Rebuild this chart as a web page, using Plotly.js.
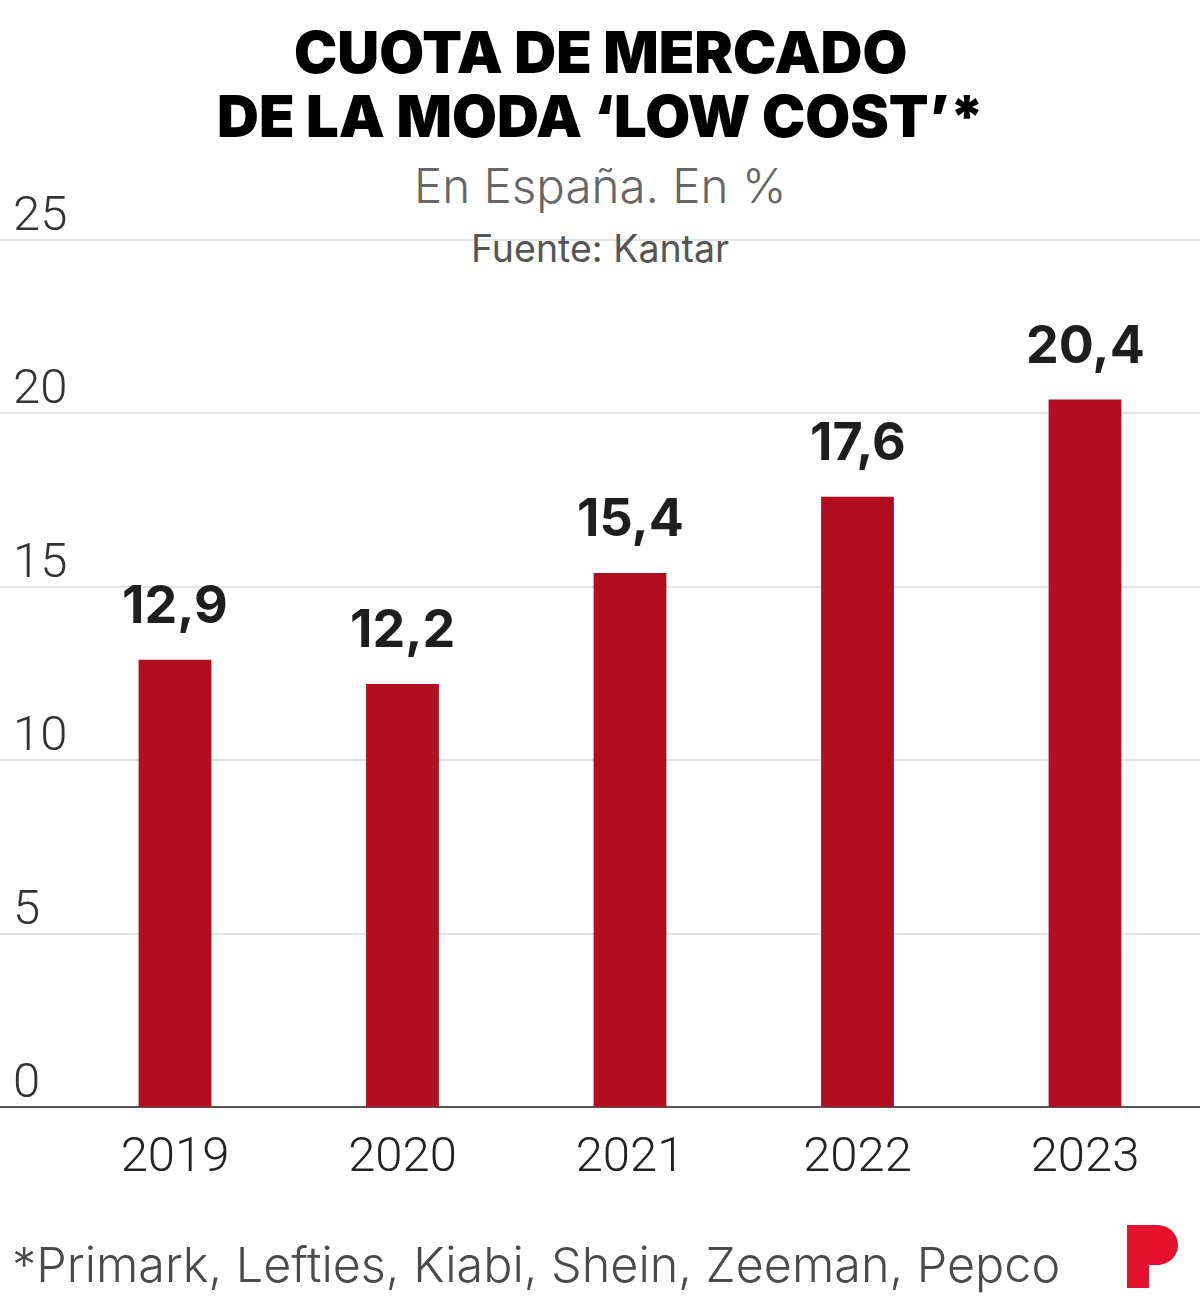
<!DOCTYPE html>
<html>
<head>
<meta charset="utf-8">
<script src="https://cdn.plot.ly/plotly-3.0.1.min.js"></script>
<style>
html,body{margin:0;padding:0;background:#fff;}
#chart{width:1200px;height:1305px;}
</style>
</head>
<body>
<div id="chart"></div>
<script>
const years = ["2019", "2020", "2021", "2022", "2023"];
const shares = [12.9, 12.2, 15.4, 17.6, 20.4];
const yTicks = [0, 5, 10, 15, 20, 25];

const W = 1200, H = 1305;
const M = {l: 0, r: 0, t: 238, b: 198};
const plotH = H - M.t - M.b;
const px2x = x => x / W;
const px2y = y => (H - M.b - y) / plotH;

function fmt(v) { return v.toFixed(1).replace('.', ','); }

const barColor = '#b30e20';

const trace = {
  type: 'bar',
  x: years,
  y: shares,
  width: 0.32,
  marker: {color: barColor},
  hoverinfo: 'skip'
};

const annotations = years.map((yr, i) => ({
  x: i, y: shares[i], xref: 'x', yref: 'y',
  text: fmt(shares[i]),
  showarrow: false, yanchor: 'bottom', yshift: 22,
  font: {family: 'Inter, Roboto, sans-serif', size: 52, weight: 700, color: '#1e1e1e'}
}));

// y tick labels (above gridlines, at left)
yTicks.forEach(v => annotations.push({
  xref: 'paper', yref: 'y', x: px2x(11), y: v, xanchor: 'left', yanchor: 'bottom', yshift: -4,
  text: String(v), showarrow: false,
  font: {family: 'Roboto, sans-serif', size: 49, weight: 300, color: '#333'}
}));

annotations.push({
  xref: 'paper', yref: 'paper', x: 0.5, y: px2y(52), xanchor: 'center', yanchor: 'middle',
  text: 'CUOTA DE MERCADO', showarrow: false,
  font: {family: 'Inter, sans-serif', size: 58, weight: 900, color: '#000'}
});
annotations.push({
  xref: 'paper', yref: 'paper', x: 0.5, y: px2y(116), xanchor: 'center', yanchor: 'middle',
  text: 'DE LA MODA ‘LOW COST’*', showarrow: false,
  font: {family: 'Inter, sans-serif', size: 58, weight: 900, color: '#000'}
});
annotations.push({
  xref: 'paper', yref: 'paper', x: 0.5, y: px2y(186), xanchor: 'center', yanchor: 'middle',
  text: 'En España. En %', showarrow: false,
  font: {family: 'Inter, sans-serif', size: 47.5, weight: 300, color: '#666'}
});
annotations.push({
  xref: 'paper', yref: 'paper', x: 0.5, y: px2y(248), xanchor: 'center', yanchor: 'middle',
  text: 'Fuente: Kantar', showarrow: false,
  font: {family: 'Inter, sans-serif', size: 37.5, weight: 400, color: '#555'}
});
annotations.push({
  xref: 'paper', yref: 'paper', x: px2x(10), y: px2y(1264), xanchor: 'left', yanchor: 'middle',
  text: '*Primark, Lefties, Kiabi, Shein, Zeeman, Pepco', showarrow: false,
  font: {family: 'Inter, sans-serif', size: 48.5, weight: 300, color: '#4a4a4a'}
});

// logo "P"
const logoPts = [
  ['M', 1127, 1225], ['L', 1157, 1225],
  ['C', 1169, 1225, 1178, 1234, 1178, 1245],
  ['C', 1178, 1256, 1169, 1265, 1157, 1265],
  ['L', 1149, 1265], ['L', 1149, 1288], ['L', 1127, 1288]
];
const logoPath = logoPts.map(p => {
  const c = p[0]; const nums = p.slice(1);
  const out = [];
  for (let i = 0; i < nums.length; i += 2) out.push(px2x(nums[i]).toFixed(5) + ',' + px2y(nums[i+1]).toFixed(5));
  return c + out.join(' ');
}).join(' ') + ' Z';

const layout = {
  width: W, height: H,
  margin: M,
  paper_bgcolor: '#fff', plot_bgcolor: '#fff',
  showlegend: false,
  xaxis: {
    type: 'category',
    range: [-175 / 227.5, (1200 - 175) / 227.5],
    showgrid: false, zeroline: false, showline: false,
    ticks: '',
    tickfont: {family: 'Roboto, sans-serif', size: 49, weight: 300, color: '#222'},
    ticklabelstandoff: 14,
    fixedrange: true
  },
  yaxis: {
    range: [0, 25.06],
    tickvals: yTicks,
    showticklabels: false,
    showgrid: true, gridcolor: '#e4e4e4', gridwidth: 2,
    zeroline: true, zerolinecolor: '#555', zerolinewidth: 2,
    showline: false, ticks: '',
    fixedrange: true
  },
  annotations: annotations,
  shapes: [{
    type: 'path', xref: 'paper', yref: 'paper', path: logoPath,
    fillcolor: '#e3112b', line: {width: 0}
  }]
};

Plotly.newPlot('chart', [trace], layout, {displayModeBar: false, staticPlot: true});
</script>
</body>
</html>
